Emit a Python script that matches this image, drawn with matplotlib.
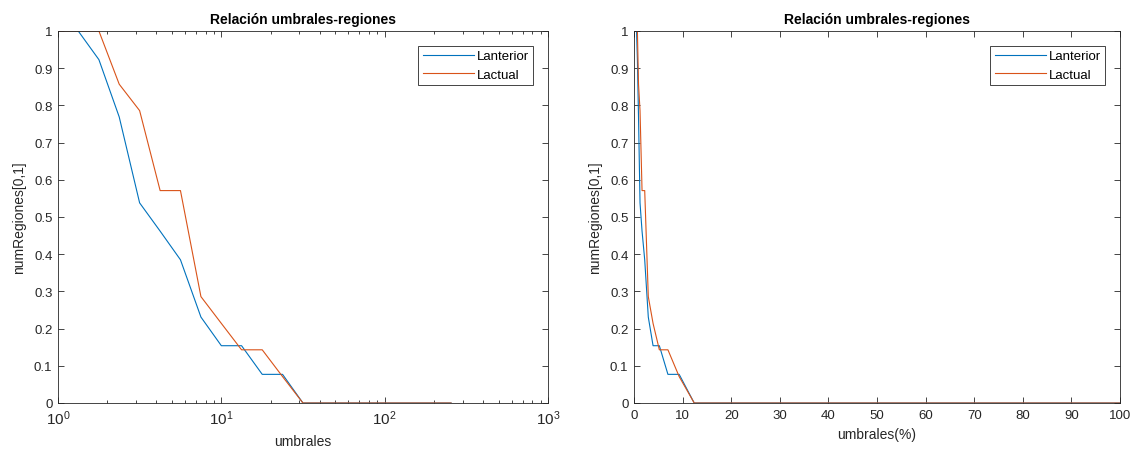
import numpy as np
import matplotlib
matplotlib.use("Agg")
import matplotlib.pyplot as plt
from matplotlib.ticker import LogLocator, MultipleLocator, NullFormatter

plt.rcParams['font.family'] = ['Liberation Sans', 'DejaVu Sans']
plt.rcParams['mathtext.fontset'] = 'custom'
plt.rcParams['mathtext.rm'] = 'Liberation Sans'

# umbrales (thresholds)
umbrales = np.array([1, 1.33, 1.78, 2.37, 3.16, 4.22, 5.62, 7.5, 10, 13.3,
                     17.8, 23.7, 31.6, 42.2, 56.2, 75, 100, 133, 178, 237, 255])
lanterior = np.array([1, 1, 0.923, 0.769, 0.538, 0.462, 0.385, 0.231, 0.154, 0.154,
                      0.077, 0.077, 0, 0, 0, 0, 0, 0, 0, 0, 0])
lactual = np.array([1, 1, 1, 0.857, 0.786, 0.571, 0.571, 0.286, 0.214, 0.143,
                    0.143, 0.071, 0, 0, 0, 0, 0, 0, 0, 0, 0])
umbrales_pct = umbrales / 255 * 100
yticks = [0, 0.1, 0.2, 0.3, 0.4, 0.5, 0.6, 0.7, 0.8, 0.9, 1]
ytick_labels = ['0', '0.1', '0.2', '0.3', '0.4', '0.5', '0.6', '0.7', '0.8', '0.9', '1']

c_blue = '#0072BD'
c_orange = '#D95319'
axcol = '#262626'
fs = 9.5

fig = plt.figure(figsize=(11.37, 4.52), dpi=100)
ax1 = fig.add_axes([58 / 1137, 1 - 404 / 452, 490 / 1137, 372 / 452])
ax2 = fig.add_axes([634 / 1137, 1 - 404 / 452, 486 / 1137, 372 / 452])


def style(ax):
    for s in ax.spines.values():
        s.set_color(axcol)
        s.set_linewidth(0.6)
    ax.tick_params(which='both', direction='in', top=True, right=True,
                   colors=axcol, labelsize=fs, width=0.6)
    ax.tick_params(which='major', length=4, pad=4)
    ax.tick_params(which='minor', length=2)
    ax.set_ylim(0, 1)
    ax.set_yticks(yticks)
    ax.set_yticklabels(ytick_labels)
    ax.set_title('Relación umbrales-regiones', fontsize=fs + 0.5, fontweight='bold', pad=6)
    ax.set_ylabel('numRegiones[0,1]', fontsize=fs + 0.5, color=axcol, labelpad=6)
    leg = ax.legend(loc='upper right', fontsize=fs, fancybox=False, framealpha=1,
                    edgecolor=axcol, handlelength=3.9, handletextpad=0.2,
                    borderaxespad=1.1, borderpad=0.35, labelspacing=0.45)
    leg.get_frame().set_linewidth(0.6)


ax1.semilogx(umbrales, lanterior, color=c_blue, lw=0.8, label='Lanterior')
ax1.semilogx(umbrales, lactual, color=c_orange, lw=0.8, label='Lactual')
ax1.set_xlim(1, 1000)
ax1.xaxis.set_major_locator(LogLocator(base=10))
ax1.xaxis.set_minor_locator(LogLocator(base=10, subs=np.arange(2, 10)))
ax1.xaxis.set_minor_formatter(NullFormatter())
ax1.set_xlabel('umbrales', fontsize=fs + 0.5, color=axcol, labelpad=5)
style(ax1)
ax1.tick_params(axis='x', labelsize=fs + 1.5)

ax2.plot(umbrales_pct, lanterior, color=c_blue, lw=0.8, label='Lanterior')
ax2.plot(umbrales_pct, lactual, color=c_orange, lw=0.8, label='Lactual')
ax2.set_xlim(0, 100)
ax2.xaxis.set_major_locator(MultipleLocator(10))
ax2.set_xlabel('umbrales(%)', fontsize=fs + 0.5, color=axcol, labelpad=5)
style(ax2)

fig.savefig('out.png', dpi=100)
